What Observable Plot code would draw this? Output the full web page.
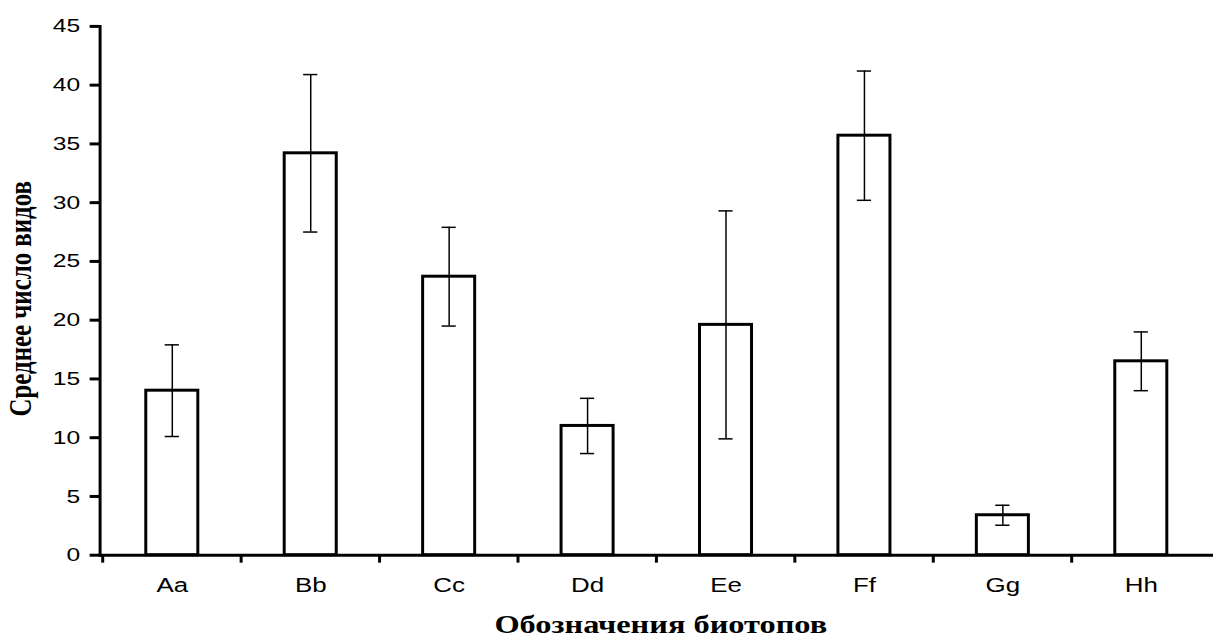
<!DOCTYPE html>
<html>
<head>
<meta charset="utf-8">
<script src="https://cdn.jsdelivr.net/npm/d3@7"></script>
<script src="https://cdn.jsdelivr.net/npm/@observablehq/plot@0.6"></script>
<style>
  html, body { margin: 0; padding: 0; background: #fff; overflow: hidden; }
  #chart { width: 1213px; height: 642px; overflow: hidden; }
  #chart svg text { font-size: 19px; font-family: 'Liberation Sans', Arial, sans-serif; fill: #000; }
  #chart svg g[aria-label="x-axis tick label"] text { font-size: 20px; }
  #chart svg .ytitle text { font-size: 25px; font-family: 'Liberation Serif', 'Times New Roman', serif; font-weight: bold; }
  #chart svg .xtitle text { font-size: 25px; font-family: 'Liberation Serif', 'Times New Roman', serif; font-weight: bold; }
</style>
</head>
<body>
<div id="chart"></div>
<script>
const categories = ["Aa", "Bb", "Cc", "Dd", "Ee", "Ff", "Gg", "Hh"];
const means = [14.0, 34.2, 23.7, 11.0, 19.6, 35.7, 3.4, 16.5];
const errors = [3.9, 6.7, 4.2, 2.35, 9.7, 5.5, 0.85, 2.5];
const yTicks = [0, 5, 10, 15, 20, 25, 30, 35, 40, 45];
const xTitle = "Обозначения биотопов";
const yTitle = "Среднее число видов";

const data = categories.map((c, i) => ({cat: c, mean: means[i], err: errors[i]}));

const W = 1218, H = 642, ML = 100, MR = 0, MT = 26, MB = 85;
const band = (W - ML - MR) / categories.length;
const barW = 53;
const barInset = (band - barW) / 2;
const capW = 15;
const capInset = (band - capW) / 2;
const stretchX = 1.3;

const sans = "'Liberation Sans', Arial, sans-serif";
const serif = "'Liberation Serif', 'Times New Roman', serif";

const chart = Plot.plot({
  width: W,
  height: H,
  marginLeft: ML,
  marginRight: MR,
  marginTop: MT,
  marginBottom: MB,
  style: {background: "#fff", color: "#000", fontFamily: sans},
  x: {type: "band", domain: categories, padding: 0},
  y: {domain: [0, 45]},
  marks: [
    Plot.barY(data, {x: "cat", y: "mean", fill: "#fff", stroke: "#000", strokeWidth: 3, insetLeft: barInset, insetRight: barInset}),
    Plot.ruleX(data, {x: "cat", y1: d => d.mean - d.err, y2: d => d.mean + d.err, stroke: "#000", strokeWidth: 1.5}),
    Plot.tickY(data, {x: "cat", y: d => d.mean + d.err, stroke: "#000", strokeWidth: 1.5, insetLeft: capInset, insetRight: capInset}),
    Plot.tickY(data, {x: "cat", y: d => d.mean - d.err, stroke: "#000", strokeWidth: 1.5, insetLeft: capInset, insetRight: capInset}),
    Plot.ruleY([0], {stroke: "#000", strokeWidth: 3}),
    Plot.frame({anchor: "left", stroke: "#000", strokeWidth: 3}),
    Plot.axisY({ticks: yTicks, tickSize: 10, tickPadding: 10, strokeWidth: 3, label: null, fill: "#000"}),
    Plot.axisX({tickSize: 8, strokeWidth: 3, dx: -band / 2, tickFormat: () => "", label: null}),
    Plot.axisX({tickSize: 0, tickPadding: 23, label: null, fill: "#000"}),
    Plot.text([yTitle], {frameAnchor: "left", textAnchor: "middle", rotate: -90, dx: -80, dy: 8, fontFamily: serif, fontWeight: "bold", fontSize: 25, fill: "#000", text: d => d, className: "ytitle"}),
    Plot.text([xTitle], {frameAnchor: "bottom", textAnchor: "middle", dx: 4, dy: 70, fontFamily: serif, fontWeight: "bold", fontSize: 25, fill: "#000", text: d => d, lineAnchor: "middle", className: "xtitle"})
  ]
});
document.getElementById("chart").appendChild(chart);

// The reference's lettering is horizontally stretched; reproduce that with an SVG scale
// appended to each text's own transform (its anchor point stays in place).
function stretch(nodes) {
  nodes.forEach(t => {
    const tf = t.getAttribute("transform") || "";
    const rotated = /rotate\(\s*-?90/.test(tf);
    const sc = rotated ? `scale(1,${stretchX})` : `scale(${stretchX},1)`;
    t.setAttribute("transform", `${tf} ${sc}`.trim());
  });
}
stretch(Array.from(chart.querySelectorAll('g[aria-label="y-axis tick label"] text, g[aria-label="x-axis tick label"] text, .ytitle text, .xtitle text')));
</script>
</body>
</html>
